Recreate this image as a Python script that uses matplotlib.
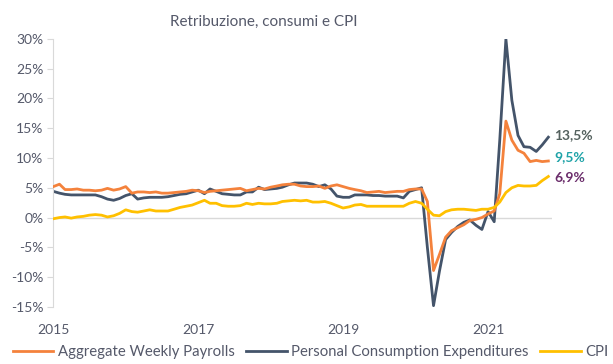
import pandas as pd
import numpy as np
import matplotlib.pyplot as plt

plt.rcParams['font.family'] = ['Lato', 'DejaVu Sans']

# Monthly data, Jan 2015 - Nov 2021 (y/y % change)
dates = pd.date_range('2015-01-01', periods=83, freq='MS')

payrolls = [5.2, 5.6, 4.7, 4.7, 4.8, 4.6, 4.6, 4.5, 4.6, 4.9, 4.6, 4.8, 5.2, 4.1, 4.3, 4.3, 4.2, 4.3, 4.1, 4.1,
            4.2, 4.3, 4.4, 4.6, 4.5, 4.2, 4.4, 4.5, 4.6, 4.7, 4.8, 4.9, 4.5, 4.7, 4.9, 4.8, 5.1, 5.3, 5.5, 5.6,
            5.6, 5.3, 5.2, 5.2, 5.3, 4.9, 5.3, 5.5, 5.2, 4.9, 4.7, 4.5, 4.2, 4.3, 4.4, 4.2, 4.3, 4.4, 4.4, 4.7,
            4.8, 4.8, 2.7, -8.9, -6.2, -3.3, -2.2, -1.7, -1.2, -0.5, -0.3, 0.0, 0.6, 1.1, 4.0, 16.2, 13.0, 11.3,
            10.8, 9.4, 9.6, 9.4, 9.5]

pce = [4.4, 4.1, 3.9, 3.8, 3.8, 3.8, 3.8, 3.8, 3.5, 3.1, 2.9, 3.2, 3.7, 4.0, 3.1, 3.3, 3.4, 3.4, 3.4, 3.5,
       3.7, 3.9, 4.0, 4.3, 4.6, 4.0, 4.8, 4.4, 4.0, 3.9, 3.8, 3.8, 4.3, 4.3, 5.1, 4.7, 4.8, 4.9, 5.1, 5.5,
       5.8, 5.8, 5.8, 5.6, 5.2, 5.5, 4.8, 3.6, 3.4, 3.4, 3.8, 3.8, 3.8, 3.7, 3.7, 3.6, 3.6, 3.6, 3.3, 4.4,
       4.7, 5.0, -5.0, -14.8, -9.0, -3.7, -2.5, -1.5, -0.8, -0.4, -1.3, -2.0, 1.0, -0.7, 13.0, 30.0, 19.7, 13.8,
       11.9, 11.8, 11.1, 12.2, 13.5]

cpi = [-0.2, 0.0, 0.1, -0.1, 0.1, 0.2, 0.4, 0.5, 0.4, 0.1, 0.3, 0.7, 1.3, 1.0, 0.9, 1.1, 1.3, 1.1, 1.1, 1.1,
       1.4, 1.7, 1.9, 2.1, 2.5, 2.9, 2.4, 2.4, 2.0, 1.9, 1.9, 2.0, 2.4, 2.2, 2.4, 2.3, 2.3, 2.4, 2.7, 2.8,
       2.9, 2.8, 2.9, 2.6, 2.6, 2.7, 2.4, 2.0, 1.6, 1.8, 2.1, 2.2, 1.9, 1.9, 1.9, 1.9, 1.9, 1.9, 1.9, 2.4,
       2.7, 2.4, 1.4, 0.4, 0.3, 1.0, 1.3, 1.4, 1.4, 1.3, 1.2, 1.4, 1.4, 1.7, 2.6, 4.2, 5.0, 5.4,
       5.3, 5.3, 5.4, 6.2, 6.9]

last_labels = ['13,5%', '9,5%', '6,9%']
year_ticks = ['2015', '2017', '2019', '2021']

ORANGE = '#F4823C'
NAVY = '#44546A'
YELLOW = '#FFC000'
TEXT = '#55596a'


def main():
    fig = plt.figure(figsize=(6.13, 3.64), dpi=100)
    ax = fig.add_axes([0.087, 0.157, 0.814, 0.736])

    ax.axhline(0, color='#d9d9d9', lw=1, zorder=1)
    ax.plot(dates, payrolls, color=ORANGE, lw=2.0, label='Aggregate Weekly Payrolls', zorder=3)
    ax.plot(dates, pce, color=NAVY, lw=2.0, label='Personal Consumption Expenditures', zorder=2)
    ax.plot(dates, cpi, color=YELLOW, lw=2.0, label='CPI', zorder=4)

    ax.set_ylim(-15, 30)
    ax.set_xlim(dates[0], dates[-1] + pd.Timedelta(days=20))
    ax.set_yticks(np.arange(-15, 31, 5))
    ax.set_yticklabels([f'{v}%' for v in range(-15, 31, 5)])
    ax.set_xticks([pd.Timestamp(y + '-01-01') for y in year_ticks])
    ax.set_xticklabels(year_ticks)

    for s in ['top', 'right', 'bottom']:
        ax.spines[s].set_visible(False)
    ax.spines['left'].set_color('#d9d9d9')
    ax.tick_params(axis='y', colors='#d9d9d9', labelcolor=TEXT, labelsize=10, length=4, pad=3)
    ax.tick_params(axis='x', length=0, labelcolor=TEXT, labelsize=10, pad=12)

    # end-of-series labels
    label_colors = ['#55625f', '#1fa3a8', '#6b2d6b']
    label_y = [13.9, 10.1, 6.8]
    for txt, col, yv in zip(last_labels, label_colors, label_y):
        ax.annotate(txt, xy=(dates[-1], yv), xytext=(4, 0), textcoords='offset points',
                    va='center', ha='left', fontsize=10, fontweight='bold', color=col,
                    annotation_clip=False)

    fig.text(0.43, 0.94, 'Retribuzione, consumi e CPI', ha='center', va='center',
             fontsize=11, color=TEXT)

    leg = fig.legend(loc='center', bbox_to_anchor=(0.5065, 0.033), ncol=3, frameon=False,
                     fontsize=10.7, handlelength=2.75, columnspacing=0.75, handletextpad=0.3)
    for t in leg.get_texts():
        t.set_color(TEXT)

    fig.savefig('out.png', dpi=100)


if __name__ == "__main__":
    main()
